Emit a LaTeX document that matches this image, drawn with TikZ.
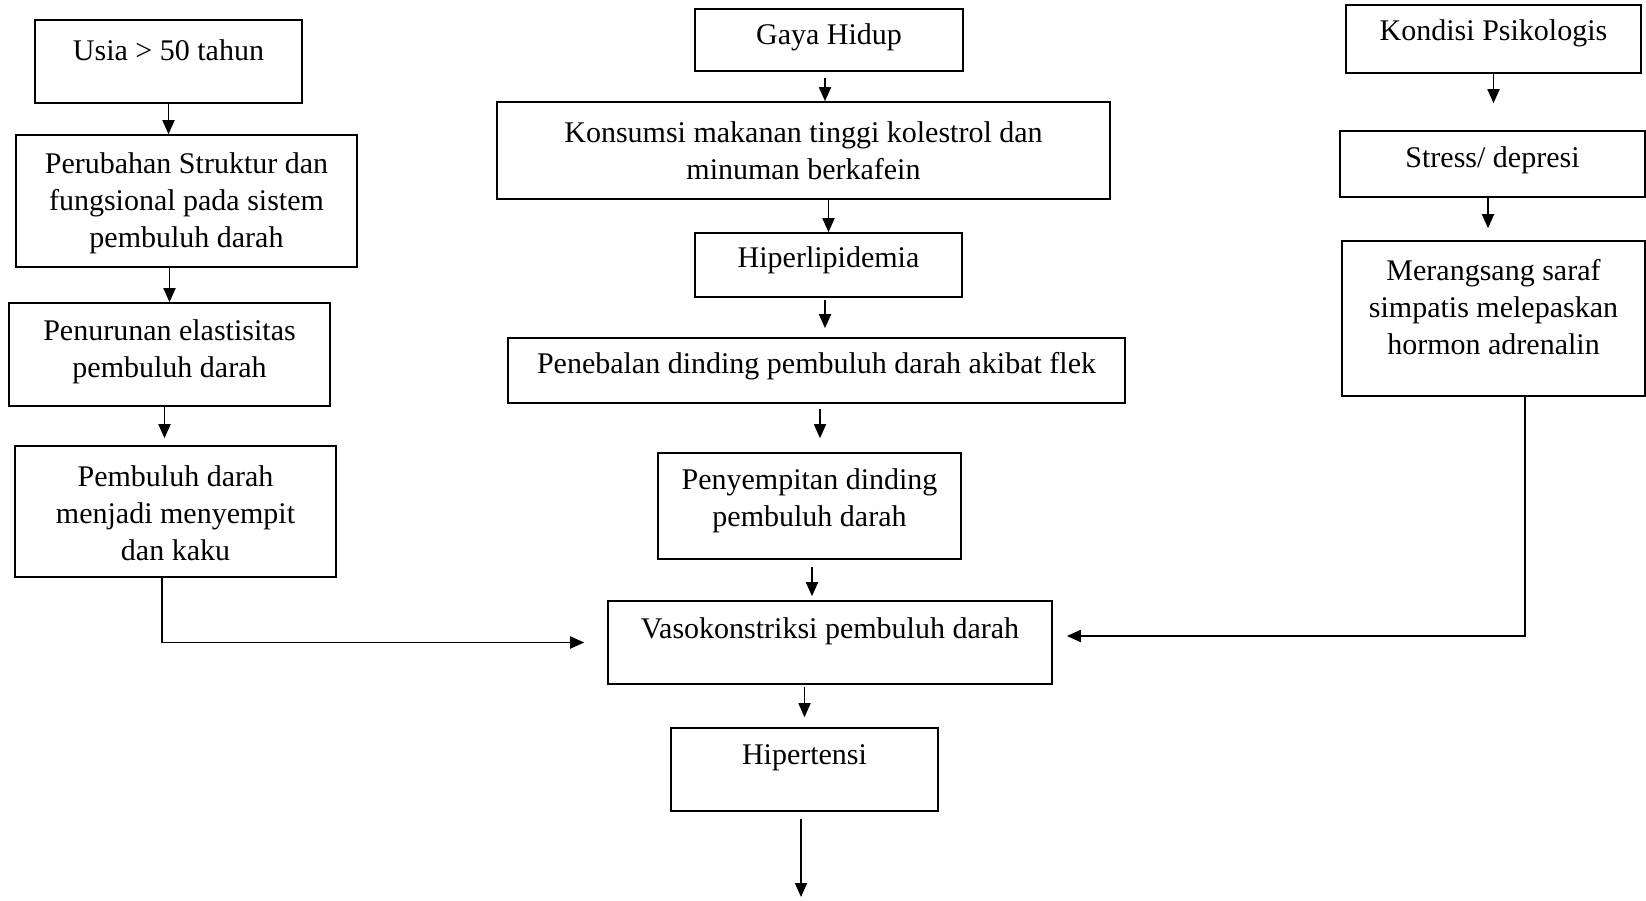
\documentclass[tikz,border=0pt]{standalone}
\usepackage{fontspec}
\setmainfont{Liberation Serif}
\usetikzlibrary{arrows.meta,positioning,calc}
\tikzset{
  kotak/.style 2 args = {draw=black, line width=1.6pt, inner sep=0pt,
    minimum width=#1, minimum height=#2},% kotak tanpa teks
  teks/.style = {align=center, inner sep=0pt,
    font=\fontsize{30}{37}\selectfont},% teks di dalam kotak
  garis/.style = {line width=1.8pt}% penghubung
}

\begin{document}
\begin{tikzpicture}[x=1pt,y=-1pt,->,>={Triangle[length=14pt,width=12pt]},garis]
\useasboundingbox (0,0) rectangle (1646,901);
% kolom kiri
\node[kotak={267pt}{83pt}] (usia) at (168.5,61.5) {};
\node[teks] (usiat) at (168.5,50) {Usia > 50 tahun};
\node[kotak={341pt}{132pt}] (perubahan) at (186.5,201) {};
\node[teks] (perubahant) at (186.5,203) {Perubahan Struktur dan\\fungsional pada sistem\\pembuluh darah};
\node[kotak={321pt}{103pt}] (penurunan) at (169.5,354.5) {};
\node[teks] (penurunant) at (169.5,352) {Penurunan elastisitas\\pembuluh darah};
\node[kotak={321pt}{131pt}] (pembuluh) at (175.5,511.5) {};
\node[teks] (pembuluht) at (175.5,513) {Pembuluh darah\\menjadi menyempit\\dan kaku};
% kolom tengah
\node[kotak={268pt}{62pt}] (gaya) at (829,40) {};
\node[teks] (gayat) at (829,37) {Gaya Hidup};
\node[kotak={613pt}{97pt}] (konsumsi) at (803.5,150.5) {};
\node[teks] (konsumsit) at (803.5,150.5) {Konsumsi makanan tinggi kolestrol dan\\minuman berkafein};
\node[kotak={267pt}{64pt}] (hiperlip) at (828.5,265) {};
\node[teks] (hiperlipt) at (828.5,260) {Hiperlipidemia};
\node[kotak={617pt}{65pt}] (penebalan) at (816.5,370.5) {};
\node[teks] (penebalant) at (816.5,366) {Penebalan dinding pembuluh darah akibat flek};
\node[kotak={303pt}{106pt}] (penyempitan) at (809.5,506) {};
\node[teks] (penyempitant) at (809.5,500.5) {Penyempitan dinding\\pembuluh darah};
\node[kotak={444pt}{83pt}] (vaso) at (830,642.5) {};
\node[teks] (vasot) at (830,631) {Vasokonstriksi pembuluh darah};
\node[kotak={267pt}{83pt}] (hipertensi) at (804.5,769.5) {};
\node[teks] (hipertensit) at (804.5,758) {Hipertensi};
\coordinate (ujung) at (801,897);
% kolom kanan
\node[kotak={295pt}{68pt}] (kondisi) at (1493.5,39) {};
\node[teks] (kondisit) at (1493.5,33) {Kondisi Psikologis};
\node[kotak={305pt}{66pt}] (stress) at (1492.5,164) {};
\node[teks] (stresst) at (1492.5,160) {Stress/ depresi};
\node[kotak={303pt}{155pt}] (merangsang) at (1493.5,318.5) {};
\node[teks] (merangsangt) at (1493.5,307) {Merangsang saraf\\simpatis melepaskan\\hormon adrenalin};

% panah kolom kiri
\draw (usia.south) -- (usia.south |- perubahan.north);
\draw (perubahan.south -| penurunan) -- (penurunan.north);
\draw[shorten >=7pt] ([xshift=-5pt]penurunan.south) -- ([xshift=-5pt]penurunan.south |- pembuluh.north);
\draw[shorten >=23pt] ([xshift=-13.5pt]pembuluh.south) |- (vaso.west);
% panah kolom tengah
\draw[shorten <=6pt] ([xshift=-4pt]gaya.south) -- ([xshift=-4pt]gaya.south |- konsumsi.north);
\draw (konsumsi.south -| hiperlip) -- (hiperlip.north);
\draw[shorten <=2pt, shorten >=9pt] ([xshift=-3.5pt]hiperlip.south) -- ([xshift=-3.5pt]hiperlip.south |- penebalan.north);
\draw[shorten <=5pt, shorten >=14pt] ([xshift=3.5pt]penebalan.south) -- ([xshift=3.5pt]penebalan.south |- penyempitan.north);
\draw[shorten <=7pt, shorten >=4pt] ([xshift=2.5pt]penyempitan.south) -- ([xshift=2.5pt]penyempitan.south |- vaso.north);
\draw[shorten <=2pt, shorten >=10pt] (vaso.south -| hipertensi) -- (hipertensi.north);
\draw[shorten <=7pt] (hipertensi.south -| ujung) -- (ujung);
% panah kolom kanan
\draw[shorten >=27pt] (kondisi.south) -- (kondisi.south |- stress.north);
\draw[shorten >=12pt] ([xshift=-4.5pt]stress.south) -- ([xshift=-4.5pt]stress.south |- merangsang.north);
\draw[shorten >=14pt] ([xshift=31.5pt]merangsang.south) |- ([yshift=6.5pt]vaso.east);
\end{tikzpicture}
\end{document}
